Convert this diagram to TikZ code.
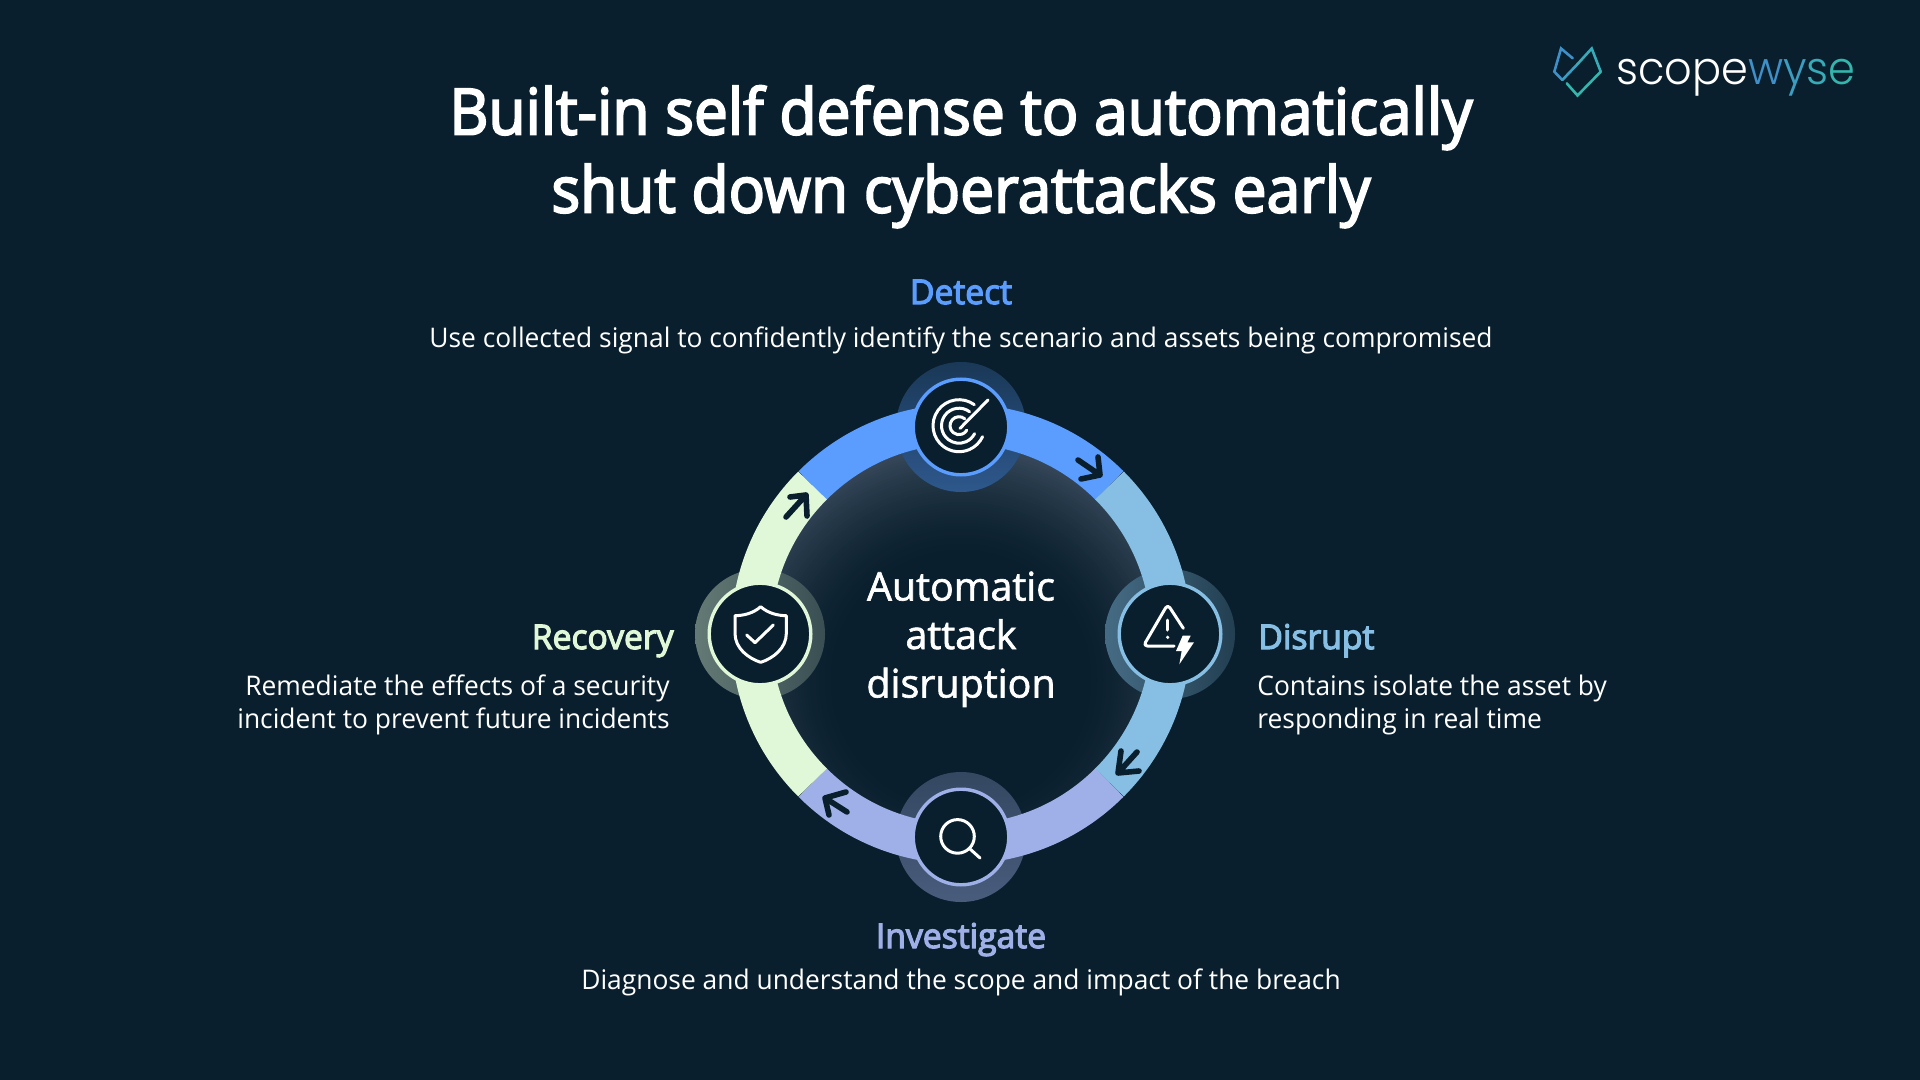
\documentclass[tikz,border=0pt]{standalone}
\usepackage{fontspec}
\setmainfont{Open Sans}
\newfontfamily\titlef[FakeBold=3,FakeStretch=0.945]{Open Sans}
\newfontfamily\headf[FakeBold=3.5,FakeStretch=0.99]{Open Sans}
\newfontfamily\bodyf[FakeStretch=0.977]{Open Sans}
\newfontfamily\midf[FakeBold=1.6]{Open Sans}
\newfontfamily\logof[UprightFont={* Light},FakeStretch=0.945]{Poppins}
\definecolor{bg}{HTML}{0A1F2D}
\definecolor{glowB}{HTML}{36485A}
\definecolor{cblue}{HTML}{5A9DFF}
\definecolor{csky}{HTML}{86BFE3}
\definecolor{clav}{HTML}{9FB0E8}
\definecolor{cmint}{HTML}{E0F7D8}
\definecolor{logoA}{HTML}{3F8FC8}
\definecolor{logoB}{HTML}{3C9DC0}
\definecolor{logoC}{HTML}{38ABB8}
\definecolor{logoD}{HTML}{34B6AC}
\tikzset{
  ttl/.style={text=white,font=\titlef\fontsize{32pt}{39pt}\selectfont,align=center,anchor=base,inner sep=0pt},
  head/.style={font=\headf\fontsize{17pt}{20pt}\selectfont,anchor=base,inner sep=0pt},
  desc/.style={text=white,font=\bodyf\fontsize{13.5pt}{16.6pt}\selectfont,anchor=base,inner sep=0pt},
  centertxt/.style={text=white,font=\midf\fontsize{19.7pt}{24.25pt}\selectfont,align=center,anchor=base,inner sep=0pt},
  ringseg/.style={line width=20pt,line cap=butt},
  station/.style={circle,fill=bg,inner sep=0pt,line width=1.7pt},
  ico/.style={draw=white,line width=1.5pt,line cap=round,line join=round},
  arw/.style={draw=bg,line width=2.8pt,line cap=round,line join=round},
  lg/.style={line width=1.3pt,line cap=round,line join=miter},
  zoomgrid/.style={x=0.16667pt,y=-0.16667pt}
}
\begin{document}
\begin{tikzpicture}[x=0.5pt,y=-0.5pt]
\useasboundingbox (0,0) rectangle (1920,1080);
\fill[bg] (0,0) rectangle (1920,1080);
% inner disc glow
\begin{scope}
\clip (961,634) circle[radius=95pt];
\foreach \r in {238,235,...,124}{
  \pgfmathsetmacro{\pct}{100*pow(max(0,(\r-125)/111),1.6)}
  \fill[glowB!\pct!bg] (961,680) circle[radius=\r*0.5pt];
}
\end{scope}
% halos
\shade[bottom color=cblue!45!bg,top color=cblue!20!bg] (961,427) circle[radius=32.5pt];
\shade[top color=clav!28!bg,bottom color=clav!42!bg] (961,837) circle[radius=32.5pt];
\shade[left color=csky!48!bg,right color=csky!20!bg] (1170,634) circle[radius=32.5pt];
\shade[left color=cmint!42!bg,right color=cmint!22!bg] (760,634) circle[radius=32.5pt];
% ring
\begin{scope}[shift={(961,634)},x=0.5pt,y=0.5pt]
\draw[ringseg,draw=cblue] (45:105pt) arc[start angle=45,end angle=135,radius=105pt];
\draw[ringseg,draw=csky] (-45:105pt) arc[start angle=-45,end angle=45,radius=105pt];
\draw[ringseg,draw=clav] (-135:105pt) arc[start angle=-135,end angle=-45,radius=105pt];
\draw[ringseg,draw=cmint] (135:105pt) arc[start angle=135,end angle=225,radius=105pt];
\end{scope}
% stations
\node[station,minimum size=47.8pt,draw=cblue] (detect) at (961,427) {};
\node[station,minimum size=50.8pt,draw=csky] (disrupt) at (1170,634) {};
\node[station,minimum size=47.8pt,draw=clav] (investigate) at (961,837) {};
\node[station,minimum size=50.8pt,draw=cmint] (recovery) at (760,634) {};
% ring arrows
\coordinate (a1t) at (1100,475);
\draw[arw] (1078,460) -- (a1t) (1098,457) -- (a1t) -- (1081,479);
\coordinate (a2t) at (1118,773);
\draw[arw] (1137,752) -- (a2t) (1121,751) -- (a2t) -- (1139,771);
\coordinate (a3t) at (825,798);
\draw[arw] (847,812) -- (a3t) (846,792) -- (a3t) -- (829,815);
\coordinate (a4t) at (806,495);
\draw[arw] (786,517) -- (a4t) (790,497) -- (a4t) -- (807,516);
% radar icon
\begin{scope}[shift={(959,425.7)},x=0.5pt,y=0.5pt]
\draw[ico] (54:26) arc[start angle=54,end angle=335,radius=13pt];
\draw[ico] (53:17.5) arc[start angle=53,end angle=333,radius=8.75pt];
\draw[ico] (50:9) arc[start angle=50,end angle=330,radius=4.5pt];
\draw[ico] (1,-2.7) -- (29,25.7);
\end{scope}
% warning icon
\begin{scope}[shift={(1100,565)},zoomgrid]
\draw[ico,rounded corners=2pt] (250,190) -- (203,118) -- (130,243) -- (222,243);
\draw[ico] (203,165) -- (203,195);
\fill[white] (203,217) circle[radius=0.9pt];
\fill[white] (248,212) -- (272,212) -- (262,232) -- (282,232) -- (238,298) -- (245,258) -- (228,258) -- cycle;
\end{scope}
% shield icon
\begin{scope}[shift={(690,565)},zoomgrid]
\draw[ico] (212,125) .. controls (190,145) and (160,152) .. (135,152) -- (135,205)
  .. controls (135,250) and (175,280) .. (212,292)
  .. controls (249,280) and (289,250) .. (289,205) -- (289,152)
  .. controls (264,152) and (234,145) .. cycle;
\draw[ico] (170,210) -- (195,233) -- (250,180);
\end{scope}
% magnifier icon
\draw[ico] (957.5,836.4) circle[radius=8.4pt];
\draw[ico] (969.5,848.5) -- (980,858);
% logo mark
\draw[lg,logoA] (1572.7,58.3) -- (1561,48.5) -- (1554.3,71.7) -- (1562.3,80);
\draw[lg,logoB] (1562.3,80) -- (1577,64.6);
\draw[lg,logoC] (1577,64.6) -- (1591.7,48.5) -- (1600.7,71.7);
\draw[lg,logoD] (1600.7,71.7) -- (1577.5,95.5) -- (1566.7,83.3);
% logo text
\node[inner sep=0pt,anchor=base west,font=\logof\fontsize{22.8pt}{26pt}\selectfont,text=white] (logo) at (1616,85)
  {scope\textcolor{logoA}{w}\textcolor{logoB}{y}\textcolor{logoC}{s}\textcolor{logoD}{e}};
% title
\node[ttl] (title) at (961,212.5) {Built-in self defense to automatically\\shut down cyberattacks early};
% centre
\node[centertxt] (core) at (961,697.5) {Automatic\\attack\\disruption};
% labels
\node[head,text=cblue] (lDetect) at (961,304) {Detect};
\node[desc] (dDetect) at (961,348) {Use collected signal to confidently identify the scenario and assets being compromised};
\node[head,text=csky,anchor=base west] (lDisrupt) at (1258,649) {Disrupt};
\node[desc,align=left,anchor=base west] (dDisrupt) at (1257,728.6) {Contains isolate the asset by\\responding in real time};
\node[head,text=clav] (lInvestigate) at (961,948) {Investigate};
\node[desc] (dInvestigate) at (961,989.5) {Diagnose and understand the scope and impact of the breach};
\node[head,text=cmint,anchor=base east] (lRecovery) at (674,649) {Recovery};
\node[desc,align=right,anchor=base east] (dRecovery) at (670,728.6) {Remediate the effects of a security\\incident to prevent future incidents};
\end{tikzpicture}
\end{document}
